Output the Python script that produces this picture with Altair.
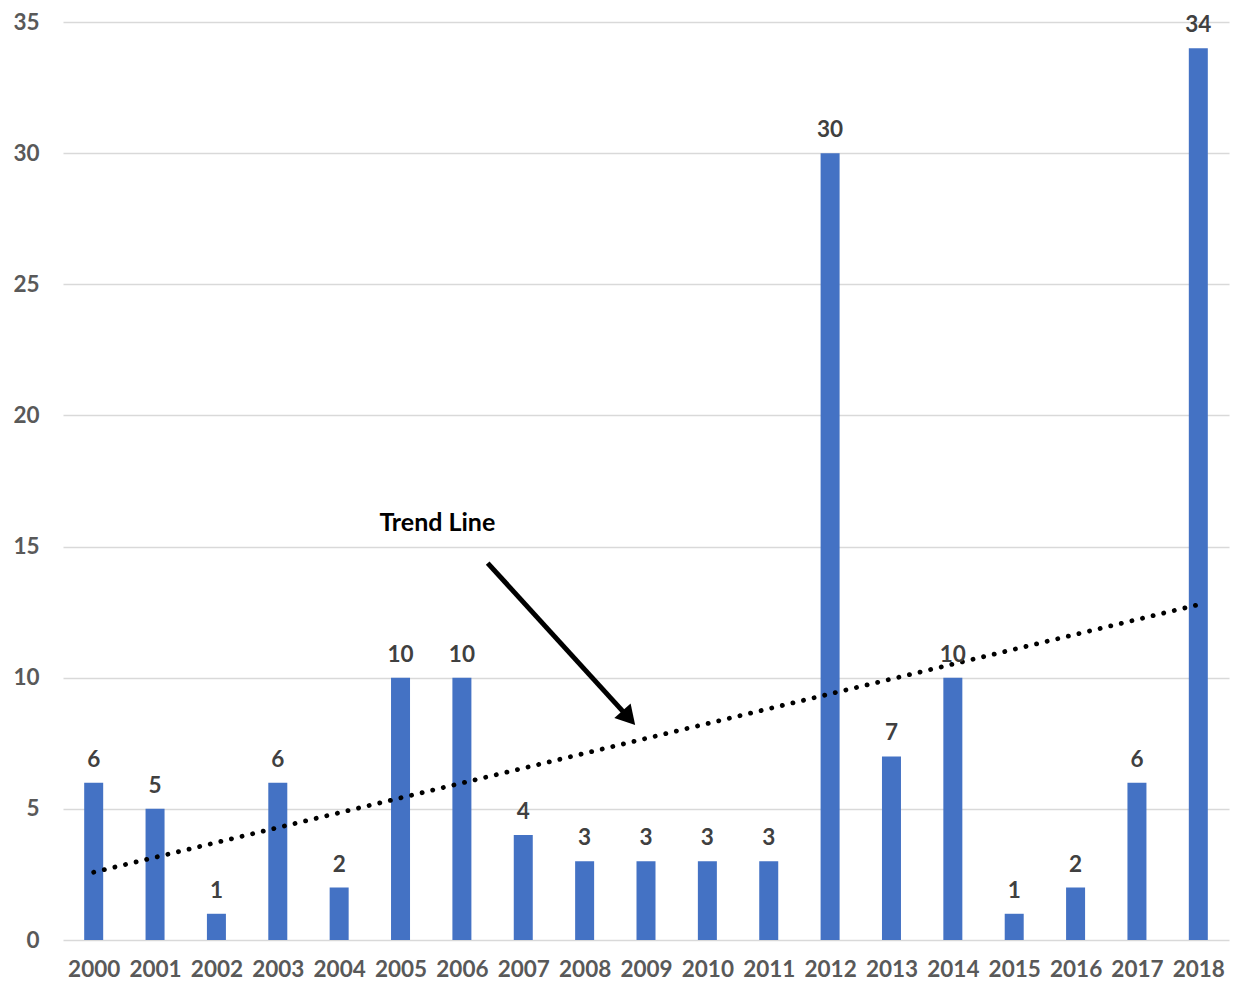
import altair as alt
import pandas as pd

years = list(range(2000, 2019))
counts = [6, 5, 1, 6, 2, 10, 10, 4, 3, 3, 3, 3, 30, 7, 10, 1, 2, 6, 34]

# annotation (data coordinates)
note_text = ["Trend Line"]
note_x = [2005.6]
note_y = [15.9]
arrow_x = [2006.42]
arrow_y = [14.37]
arrow_x2 = [2008.72]
arrow_y2 = [8.47]

df = pd.DataFrame({"year": years, "count": counts})
note_df = pd.DataFrame({"label": note_text, "x": note_x, "y": note_y})
arrow_df = pd.DataFrame({"x": arrow_x, "y": arrow_y, "x2": arrow_x2, "y2": arrow_y2})

FONT = "Lato"
xscale = alt.Scale(domain=[1999.5, 2018.5], nice=False, zero=False, padding=0)
yscale = alt.Scale(domain=[0, 35], nice=False, padding=0)

xaxis = alt.Axis(values=years, format="d", title=None, grid=False, ticks=False,
                 domain=False, labelFont=FONT, labelFontSize=22.5, labelFontWeight="bold",
                 labelColor="#595959", labelPadding=36, labelBaseline="alphabetic",
                 labelFlush=False)
yaxis = alt.Axis(values=[0, 5, 10, 15, 20, 25, 30, 35], title=None, grid=True,
                 gridColor="#d9d9d9", gridWidth=1.5, ticks=False, domain=False,
                 labelFont=FONT, labelFontSize=22.5, labelFontWeight="bold",
                 labelColor="#595959", labelPadding=24, labelFlush=False)

base = alt.Chart(df)

bars = base.mark_bar(size=19, color="#4472C4").encode(
    x=alt.X("year:Q", scale=xscale, axis=xaxis),
    y=alt.Y("count:Q", scale=yscale, axis=yaxis),
)

labels = base.mark_text(dy=-16, baseline="alphabetic", font=FONT, fontSize=22.5,
                        fontWeight="bold", color="#404040").encode(
    x=alt.X("year:Q", scale=xscale),
    y=alt.Y("count:Q", scale=yscale),
    text=alt.Text("count:Q"),
)

trend = base.transform_regression("year", "count", method="linear").mark_line(
    color="black", strokeWidth=4.8, strokeCap="round", strokeDash=[0.1, 10.8]
).encode(
    x=alt.X("year:Q", scale=xscale),
    y=alt.Y("count:Q", scale=yscale),
)

note = alt.Chart(note_df).mark_text(font=FONT, fontSize=25, fontWeight="bold",
                                    color="black", baseline="middle").encode(
    x=alt.X("x:Q", scale=xscale),
    y=alt.Y("y:Q", scale=yscale),
    text="label:N",
)

arrow_line = alt.Chart(arrow_df).mark_rule(color="black", strokeWidth=5).encode(
    x=alt.X("x:Q", scale=xscale),
    y=alt.Y("y:Q", scale=yscale),
    x2="x2:Q",
    y2="y2:Q",
)

arrow_head = alt.Chart(arrow_df).mark_point(shape="triangle-up", size=480, filled=True,
                                            opacity=1, color="black", angle=138).encode(
    x=alt.X("x2:Q", scale=xscale),
    y=alt.Y("y2:Q", scale=yscale),
)

chart = alt.layer(bars, trend, labels, note, arrow_line, arrow_head).properties(
    width=1166, height=918,
    background="white",
    autosize=alt.AutoSizeParams(type="none"),
    padding={"left": 55, "top": 14, "right": 4, "bottom": 42},
).configure_view(strokeWidth=0, stroke=None)

chart.save("out.html", embed_options={"renderer": "svg", "actions": False})
